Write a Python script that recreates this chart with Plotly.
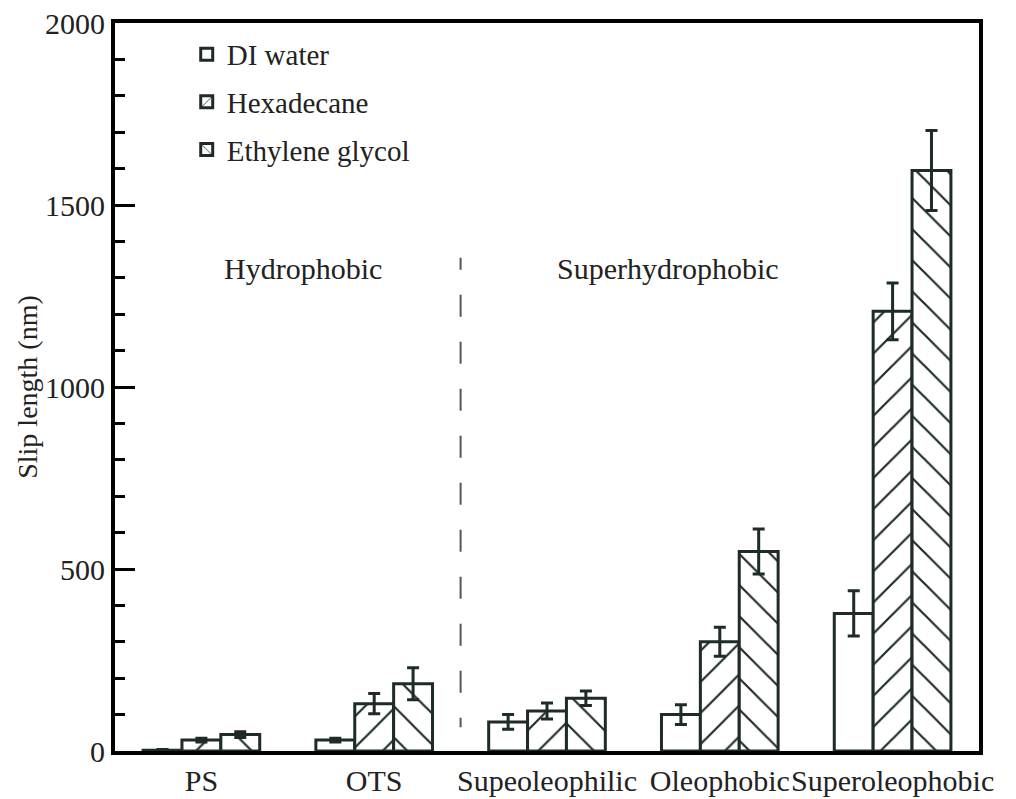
import plotly.graph_objects as go

# Surface categories along the x axis
categories = ["PS", "OTS", "Supeoleophilic", "Oleophobic", "Superoleophobic"]
positions = list(range(len(categories)))

# Slip length (nm) and error for each liquid
di_water = [2, 30, 80, 100, 378]
di_water_err = [2, 5, 20, 27, 62]
hexadecane = [30, 130, 110, 300, 1208]
hexadecane_err = [5, 28, 22, 40, 78]
ethylene_glycol = [45, 185, 145, 548, 1595]
ethylene_glycol_err = [8, 44, 20, 62, 110]

# Region labels and the divider between them (divider drawn top-down)
region_labels = ["Hydrophobic", "Superhydrophobic"]
region_label_x = [0.59, 2.70]
region_label_y = 1325
divider_x = 1.5
divider_y = [1355, 65]

y_major_ticks = [0, 500, 1000, 1500, 2000]

FONT = "Liberation Serif, Times New Roman, serif"
EDGE = "#1e2b28"
TEXT = "#222222"

# Dash pattern: a short leading dash followed by regular long dashes
DIVIDER_DASH = ",".join(["12px", "25px"] + ["22px", "25px"] * 12)

series = [
    ("DI water", di_water, di_water_err, ""),
    ("Hexadecane", hexadecane, hexadecane_err, "/"),
    ("Ethylene glycol", ethylene_glycol, ethylene_glycol_err, "\\"),
]

fig = go.Figure()
for i, (name, vals, errs, shape) in enumerate(series):
    fig.add_trace(go.Bar(
        name=name,
        x=positions,
        y=vals,
        legendgroup=f"g{i}",
        error_y=dict(type="data", array=errs, visible=True,
                     color=EDGE, thickness=3, width=6),
        marker=dict(
            color="white",
            line=dict(color=EDGE, width=3),
            pattern=dict(shape=shape, size=22, solidity=0.1,
                         fgcolor=EDGE, fgopacity=1, bgcolor="white",
                         fillmode="overlay"),
        ),
    ))

# Dashed divider between hydrophobic and superhydrophobic groups
fig.add_trace(go.Scatter(
    x=[divider_x, divider_x], y=divider_y, mode="lines",
    line=dict(color="#555555", width=2, dash=DIVIDER_DASH),
    showlegend=False, hoverinfo="skip",
))

for label, lx in zip(region_labels, region_label_x):
    fig.add_annotation(x=lx, y=region_label_y, text=label, showarrow=False,
                       font=dict(family=FONT, size=30, color=TEXT),
                       xanchor="center", yanchor="middle")

fig.update_layout(
    width=1016, height=799,
    margin=dict(l=115, r=37, t=23, b=48),
    paper_bgcolor="white", plot_bgcolor="white",
    barmode="group", bargap=0.325, bargroupgap=0,
    font=dict(family=FONT, size=30, color=TEXT),
    showlegend=True,
    legend=dict(x=0.083, y=0.992, xanchor="left", yanchor="top",
                bgcolor="rgba(0,0,0,0)", tracegroupgap=7,
                font=dict(family=FONT, size=29, color=TEXT)),
)

fig.update_xaxes(
    range=[-0.5, 4.5], tickvals=positions, ticktext=categories,
    showline=True, linecolor="black", linewidth=4,
    mirror=True, ticks="", showgrid=False, zeroline=False,
    tickangle=0, automargin=False,
    tickfont=dict(family=FONT, size=30, color=TEXT),
)
fig.update_yaxes(
    range=[0, 2000], tickvals=y_major_ticks, showline=True,
    linecolor="black", linewidth=4, mirror=True,
    ticks="inside", ticklen=20, tickwidth=3, tickcolor="black",
    minor=dict(dtick=100, ticks="inside", ticklen=10, tickwidth=3,
               tickcolor="black", showgrid=False),
    showgrid=False, zeroline=False, automargin=False,
    tickfont=dict(family=FONT, size=30, color=TEXT),
    title=dict(text="Slip length (nm)", standoff=0,
               font=dict(family=FONT, size=28, color=TEXT)),
)

fig.write_html("out.html")
